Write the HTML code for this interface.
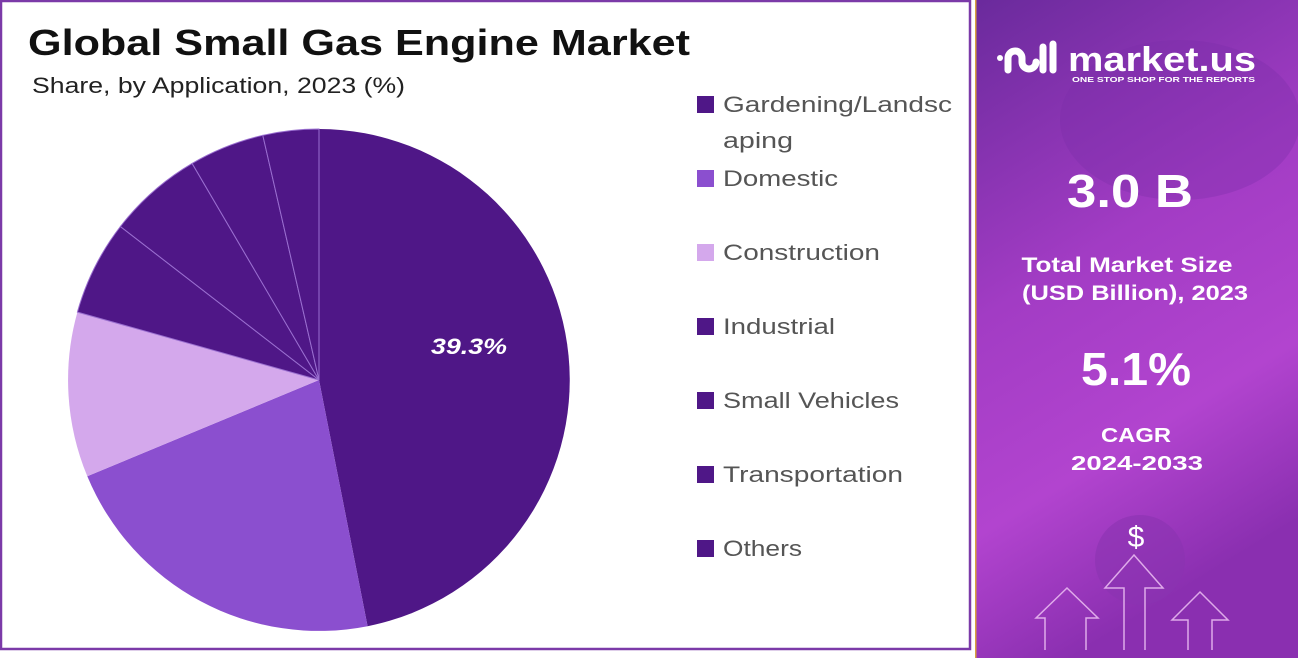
<!DOCTYPE html>
<html><head><meta charset="utf-8"><style>
html,body{margin:0;padding:0;background:#fff;}
svg{display:block;}
text{font-family:"Liberation Sans",sans-serif;}
</style></head><body>
<svg width="1298" height="658" viewBox="0 0 1298 658" xmlns="http://www.w3.org/2000/svg">
<defs>
<linearGradient id="bg" x1="0" y1="0" x2="0.3" y2="1">
<stop offset="0" stop-color="#6a2a9c"/>
<stop offset="0.45" stop-color="#a23cc4"/>
<stop offset="0.75" stop-color="#b244cf"/>
<stop offset="1" stop-color="#8a2fb0"/>
</linearGradient>
</defs>
<rect x="0" y="0" width="1298" height="658" fill="#fff"/>
<rect x="1" y="1" width="969" height="648" fill="#fff" stroke="#7b3aa8" stroke-width="2.5"/>
<rect x="975" y="0" width="323" height="658" fill="url(#bg)"/>
<rect x="975" y="0" width="1.5" height="658" fill="#d9a040"/>
<ellipse cx="1180" cy="120" rx="120" ry="80" fill="#7a2fa8" opacity="0.35"/>
<ellipse cx="1140" cy="560" rx="45" ry="45" fill="#8a34b0" opacity="0.6"/>

<g stroke-width="1">
<path d="M319,380 L319,129 A251,251 0 0 1 367.6,626.2 Z" fill="#4f1787"/>
<path d="M319,380 L367.6,626.2 A251,251 0 0 1 87.3,476.3 Z" fill="#8b4fcf"/>
<path d="M319,380 L87.3,476.3 A251,251 0 0 1 77.4,312.1 Z" fill="#d4a8ec"/>
<path d="M319,380 L77.4,312.1 A251,251 0 0 1 120.4,226.5 Z" fill="#4f1787" stroke="#9a6fd0"/>
<path d="M319,380 L120.4,226.5 A251,251 0 0 1 192.1,163.4 Z" fill="#4f1787" stroke="#9a6fd0"/>
<path d="M319,380 L192.1,163.4 A251,251 0 0 1 262.8,135.3 Z" fill="#4f1787" stroke="#9a6fd0"/>
<path d="M319,380 L262.8,135.3 A251,251 0 0 1 319,129 Z" fill="#4f1787" stroke="#9a6fd0"/>
<line x1="319" y1="380" x2="319" y2="129" stroke="#9a6fd0" stroke-width="1"/>
</g>
<text x="469" y="354" font-size="22" font-weight="bold" font-style="italic" fill="#fff" text-anchor="middle" textLength="76" lengthAdjust="spacingAndGlyphs">39.3%</text>

<text x="28" y="55" font-size="36" font-weight="bold" fill="#111" textLength="662" lengthAdjust="spacingAndGlyphs">Global Small Gas Engine Market</text>
<text x="32" y="93" font-size="22" fill="#222" textLength="373" lengthAdjust="spacingAndGlyphs">Share, by Application, 2023 (%)</text>

<g font-size="22" fill="#555" lengthAdjust="spacingAndGlyphs">
<rect x="697" y="96" width="17" height="17" fill="#4f1787"/>
<text x="723" y="112" textLength="229" lengthAdjust="spacingAndGlyphs">Gardening/Landsc</text>
<text x="723" y="148" textLength="70" lengthAdjust="spacingAndGlyphs">aping</text>
<rect x="697" y="170" width="17" height="17" fill="#8b4fcf"/>
<text x="723" y="186" textLength="115" lengthAdjust="spacingAndGlyphs">Domestic</text>
<rect x="697" y="244" width="17" height="17" fill="#d4a8ec"/>
<text x="723" y="260" textLength="157" lengthAdjust="spacingAndGlyphs">Construction</text>
<rect x="697" y="318" width="17" height="17" fill="#4f1787"/>
<text x="723" y="334" textLength="112" lengthAdjust="spacingAndGlyphs">Industrial</text>
<rect x="697" y="392" width="17" height="17" fill="#4f1787"/>
<text x="723" y="408" textLength="176" lengthAdjust="spacingAndGlyphs">Small Vehicles</text>
<rect x="697" y="466" width="17" height="17" fill="#4f1787"/>
<text x="723" y="482" textLength="180" lengthAdjust="spacingAndGlyphs">Transportation</text>
<rect x="697" y="540" width="17" height="17" fill="#4f1787"/>
<text x="723" y="556" textLength="79" lengthAdjust="spacingAndGlyphs">Others</text>
</g>

<g fill="none" stroke="#fff" stroke-linecap="round">
<circle cx="1000" cy="58" r="3" fill="#fff" stroke="none"/>
<path d="M1008,70 V58 a7,7 0 0 1 14,0 V62 a7,7 0 0 0 14,0" stroke-width="7"/>
<line x1="1043" y1="47" x2="1043" y2="70" stroke-width="7"/>
<line x1="1053" y1="44" x2="1053" y2="70" stroke-width="7"/>
</g>
<text x="1068" y="71" font-size="34" font-weight="bold" fill="#fff" textLength="188" lengthAdjust="spacingAndGlyphs">market.us</text>
<text x="1072" y="82" font-size="7" font-weight="bold" fill="#fff" textLength="183" lengthAdjust="spacingAndGlyphs">ONE STOP SHOP FOR THE REPORTS</text>

<g fill="#fff" font-weight="bold" text-anchor="middle">
<text x="1130" y="207" font-size="46" textLength="126" lengthAdjust="spacingAndGlyphs">3.0 B</text>
<text x="1127" y="272" font-size="21" textLength="211" lengthAdjust="spacingAndGlyphs">Total Market Size</text>
<text x="1135" y="300" font-size="21" textLength="226" lengthAdjust="spacingAndGlyphs">(USD Billion), 2023</text>
<text x="1136" y="385" font-size="46" textLength="110" lengthAdjust="spacingAndGlyphs">5.1%</text>
<text x="1136" y="442" font-size="20" textLength="70" lengthAdjust="spacingAndGlyphs">CAGR</text>
<text x="1137" y="470" font-size="20" textLength="132" lengthAdjust="spacingAndGlyphs">2024-2033</text>
</g>
<text x="1136" y="547" font-size="30" fill="#fff" text-anchor="middle">$</text>
<g fill="none" stroke="#e8b8f0" stroke-width="1.5" opacity="0.9">
<path d="M1124,650 V588 H1105 L1134,555 L1163,588 H1145 V650"/>
<path d="M1045,650 V618 H1036 L1067,588 L1098,618 H1086 V650"/>
<path d="M1188,650 V620 H1172 L1200,592 L1228,620 H1212 V650"/>
</g>
</svg>
</body></html>
